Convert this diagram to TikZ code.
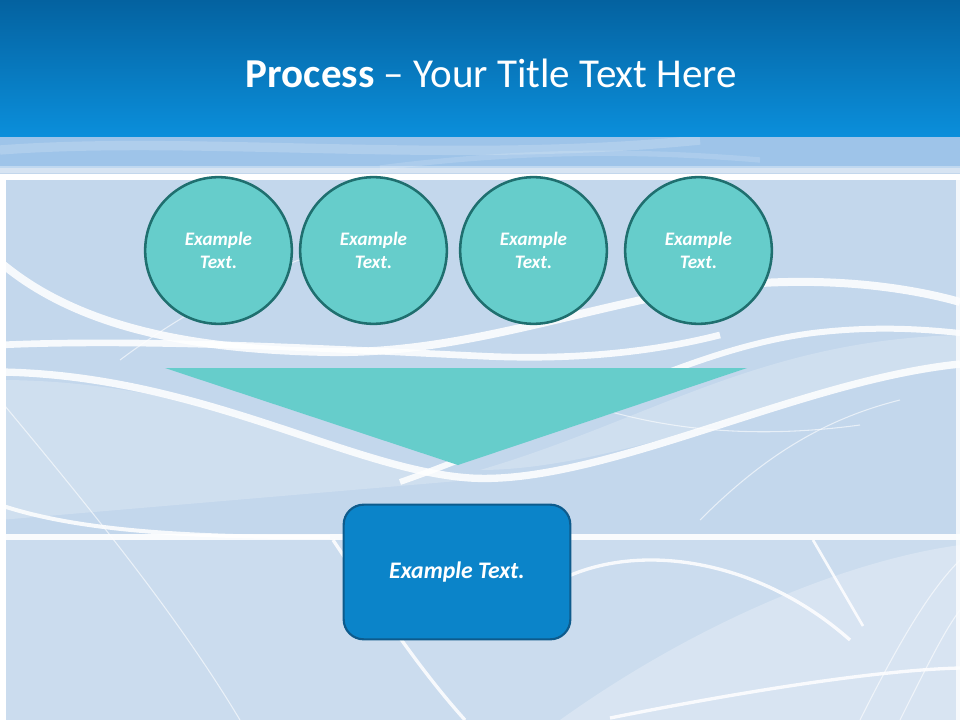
\documentclass[tikz,border=0pt]{standalone}
\usepackage{fontspec}
\setmainfont{Carlito}
\usetikzlibrary{positioning}
\definecolor{headtop}{HTML}{0462A0}
\definecolor{headbot}{HTML}{0B8FDB}
\definecolor{bgblue}{HTML}{C3D7EC}
\definecolor{bandblue}{HTML}{9EC4E9}
\definecolor{slideteal}{HTML}{66CDCB}
\definecolor{tealdark}{HTML}{1F6F6F}
\definecolor{boxblue}{HTML}{0B84C9}
\definecolor{boxdark}{HTML}{0E5B8C}
\begin{document}
\begin{tikzpicture}[
    x=0.75pt, y=-0.75pt,
    circ/.style={circle, draw=tealdark, line width=1.9pt, fill=slideteal, minimum size=110pt, inner sep=0pt, align=center, text=white, font=\fontsize{14.3}{17.5}\selectfont\bfseries\itshape},
    box/.style={rectangle, draw=boxdark, line width=1.6pt, fill=boxblue, rounded corners=15pt, minimum width=170pt, minimum height=101pt, text=white, font=\fontsize{17.8}{21}\selectfont\bfseries\itshape},
    title/.style={text=white, font=\fontsize{30.8}{36}\selectfont, anchor=base},
    wave/.style={white, opacity=0.85, line width=5pt},
    thinwave/.style={white, opacity=0.6, line width=0.8pt}
]
\useasboundingbox (0,0) rectangle (960,720);

\fill[bgblue] (0,137) rectangle (960,720);
\fill[bandblue] (0,137) rectangle (960,168);
\fill[white, opacity=0.35] (0,166) rectangle (960,173);
\draw[white, opacity=0.18, line width=7pt] (0,150) .. controls (200,135) and (450,165) .. (700,140);
\draw[white, opacity=0.15, line width=4pt] (380,168) .. controls (520,150) and (640,150) .. (760,160);
\fill[white, opacity=0.15] (0,540) rectangle (960,720);
\fill[white, opacity=0.25] (560,720) .. controls (700,620) and (850,560) .. (960,545) -- (960,720) -- cycle;
\fill[white, opacity=0.2] (480,470) .. controls (650,420) and (760,340) .. (960,335) -- (960,368) .. controls (800,385) and (620,470) .. cycle;
\fill[white, opacity=0.2] (0,380) .. controls (200,380) and (350,460) .. (470,480) -- (0,520) -- cycle;

\draw[wave, line width=6pt] (0,262) .. controls (80,330) and (200,350) .. (330,352) .. controls (450,354) and (560,315) .. (680,292) .. controls (800,272) and (900,285) .. (960,302);
\draw[wave] (0,345) .. controls (150,338) and (350,350) .. (480,356) .. controls (600,362) and (680,345) .. (720,335);
\draw[wave, line width=5.5pt] (0,372) .. controls (200,375) and (350,470) .. (470,478) .. controls (600,486) and (800,380) .. (960,364);
\draw[wave, line width=4.5pt] (400,482) .. controls (550,430) and (680,350) .. (813,333) .. controls (880,325) and (930,330) .. (960,333);
\draw[wave, line width=3pt] (0,505) .. controls (60,525) and (150,538) .. (330,537);
\draw[wave, line width=2.5pt] (333,540) .. controls (380,610) and (420,670) .. (465,720);
\draw[wave, line width=2pt] (813,540) -- (863,626);
\draw[wave, line width=2.5pt] (560,580) .. controls (640,540) and (760,560) .. (850,640);
\draw[wave, line width=2.5pt] (610,718) .. controls (750,690) and (880,670) .. (960,668);
\draw[thinwave] (0,400) .. controls (100,520) and (180,620) .. (240,720);
\draw[thinwave] (120,360) .. controls (200,300) and (300,250) .. (400,230);
\draw[thinwave] (560,395) .. controls (650,430) and (750,440) .. (860,425);
\draw[thinwave] (860,720) .. controls (900,640) and (930,590) .. (960,560);
\draw[thinwave] (900,720) .. controls (930,660) and (945,630) .. (960,610);
\draw[thinwave] (700,520) .. controls (760,460) and (820,420) .. (900,400);

\draw[white, line width=4.5pt] (0,177) -- (960,177);
\draw[white, opacity=0.9, line width=4.5pt] (0,537) -- (960,537);
\draw[white, line width=5pt] (2.5,175) -- (2.5,720);
\draw[white, opacity=0.8, line width=2.5pt] (958,175) -- (958,720);

\shade[top color=headtop, bottom color=headbot] (0,0) rectangle (960,137);
\node[title] (head) at (491.5,88) {\textbf{Process} – Your Title Text Here};

\node[circ] (step1) at (218.5,250.5) {Example\\Text.};
\node[circ] (step2) at (373.5,250.5) {Example\\Text.};
\node[circ] (step3) at (533.5,250.5) {Example\\Text.};
\node[circ] (step4) at (698.5,250.5) {Example\\Text.};

\fill[slideteal] (165,368) -- (747,368) -- (458,465) -- cycle;

\node[box] (result) at (457,572) {Example Text.};

\end{tikzpicture}
\end{document}
